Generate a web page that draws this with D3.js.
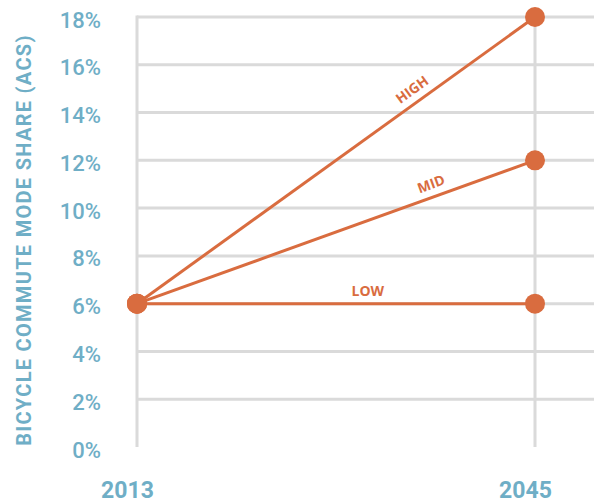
<!DOCTYPE html>
<html>
<head>
<meta charset="utf-8">
<script src="https://cdnjs.cloudflare.com/ajax/libs/d3/7.8.5/d3.min.js"></script>
<style>
  body { margin: 0; background: #fff; }
  svg { display: block; }
  .tick text { font-family: Roboto, sans-serif; }
</style>
</head>
<body>
<svg class="chart"></svg>
<script>
var years = [2013, 2045];
var seriesNames = ["LOW", "MID", "HIGH"];
var lowValues = [6, 6];
var midValues = [6, 12];
var highValues = [6, 18];
var yTicks = [0, 2, 4, 6, 8, 10, 12, 14, 16, 18];

var width = 595, height = 503;

var blue = "#6faec6", orange = "#d96c3f", grid = "#dadada";

var svg = d3.select(".chart")
    .attr("width", width)
    .attr("height", height);

var x = d3.scaleLinear()
    .domain(years)
    .range([137, 535]);

var y = d3.scaleLinear()
    .domain([0, 18])
    .range([447, 17]);

// horizontal grid
svg.append("g")
    .selectAll("line")
    .data(yTicks.filter(function(d) { return d > 0; }))
  .enter().append("line")
    .attr("x1", x(years[0]))
    .attr("x2", 594)
    .attr("y1", function(d) { return y(d); })
    .attr("y2", function(d) { return y(d); })
    .attr("stroke", grid)
    .attr("stroke-width", 3);

// vertical grid at each year
svg.append("g")
    .selectAll("line")
    .data(years)
  .enter().append("line")
    .attr("x1", function(d) { return x(d); })
    .attr("x2", function(d) { return x(d); })
    .attr("y1", y(18) - 1.5)
    .attr("y2", y(0))
    .attr("stroke", grid)
    .attr("stroke-width", 3);

// y axis labels
var yAxis = d3.axisLeft(y)
    .tickValues(yTicks)
    .tickFormat(function(d) { return d + "%"; })
    .tickSize(0)
    .tickPadding(0);

var yg = svg.append("g")
    .attr("transform", "translate(101,3)")
    .call(yAxis);
yg.select(".domain").remove();
yg.selectAll("text")
    .attr("fill", blue)
    .attr("font-size", 22)
    .attr("font-weight", 500);

// x axis labels
var xAxis = d3.axisBottom(x)
    .tickValues(years)
    .tickFormat(d3.format("d"))
    .tickSize(0)
    .tickPadding(0);

var xg = svg.append("g")
    .attr("transform", "translate(-10,480)")
    .call(xAxis);
xg.select(".domain").remove();
xg.selectAll("text")
    .attr("fill", blue)
    .attr("font-size", 23)
    .attr("font-weight", 700)
    .attr("dy", "0.8em");

// y title
svg.append("text")
    .attr("transform", "translate(31,240) rotate(-90)")
    .attr("text-anchor", "middle")
    .attr("font-family", "Roboto, sans-serif")
    .attr("font-weight", 700)
    .attr("font-size", 20)
    .attr("letter-spacing", 1.3)
    .attr("fill", blue)
    .text("BICYCLE COMMUTE MODE SHARE (ACS)");

var series = [
  {name: seriesNames[0], values: lowValues, at: 0.58, off: 8},
  {name: seriesNames[1], values: midValues, at: 0.75, off: 8},
  {name: seriesNames[2], values: highValues, at: 0.71, off: 8}
];

var line = d3.line()
    .x(function(d, i) { return x(years[i]); })
    .y(function(d) { return y(d); });

svg.append("g")
    .selectAll("path")
    .data(series)
  .enter().append("path")
    .attr("d", function(d) { return line(d.values); })
    .attr("fill", "none")
    .attr("stroke", orange)
    .attr("stroke-width", 3);

// line labels
svg.append("g")
    .selectAll("text")
    .data(series)
  .enter().append("text")
    .attr("transform", function(d) {
      var x0 = x(years[0]), x1 = x(years[1]);
      var y0 = y(d.values[0]), y1 = y(d.values[1]);
      var px = x0 + (x1 - x0) * d.at, py = y0 + (y1 - y0) * d.at;
      var ang = Math.atan2(y1 - y0, x1 - x0) * 180 / Math.PI;
      return "translate(" + px + "," + py + ") rotate(" + ang + ") translate(0," + (-d.off) + ")";
    })
    .attr("text-anchor", "middle")
    .attr("font-family", "'Open Sans', sans-serif")
    .attr("font-weight", 700)
    .attr("font-size", 14)
    .attr("fill", orange)
    .text(function(d) { return d.name; });

// points
var pts = [];
series.forEach(function(s) {
  s.values.forEach(function(v, i) { pts.push({year: years[i], value: v}); });
});

svg.append("g")
    .selectAll("circle")
    .data(pts)
  .enter().append("circle")
    .attr("cx", function(d) { return x(d.year); })
    .attr("cy", function(d) { return y(d.value); })
    .attr("r", 10)
    .attr("fill", orange);
</script>
</body>
</html>
